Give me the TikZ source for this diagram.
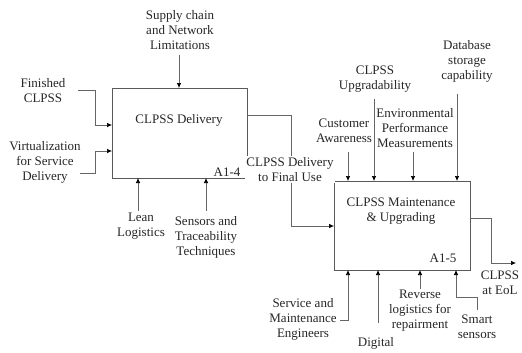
\documentclass[tikz,border=0pt]{standalone}
\usepackage{fontspec}
\setmainfont{Liberation Serif}
\usetikzlibrary{arrows.meta}
\begin{document}
\begin{tikzpicture}[x=1pt,y=-1pt,
  every node/.style={font=\fontsize{13}{15}\selectfont, text=black!85},
  box/.style={draw=black!65, line width=0.8pt, fill=white, inner sep=0pt},
  lbl/.style={align=center, inner sep=1pt},
  conn/.style={draw=black!60, line width=0.7pt},
  arr/.style={conn, -{Latex[length=5pt,width=4.5pt,black]}}]
\useasboundingbox (0,0) rectangle (522,353);
% boxes
\node[box, minimum width=135pt, minimum height=90pt] (b1) at (179.5,133) {};
\node[box, minimum width=136pt, minimum height=89pt] (b2) at (402,225.5) {};
\node (t1) at (179,120) {CLPSS Delivery};
\node (n1) at (227,172) {A1-4};
\node[lbl] (t2) at (401,211.5) {CLPSS Maintenance\\\& Upgrading};
\node (n2) at (443,258) {A1-5};
% labels
\node[lbl] (fin) at (43,91) {Finished\\CLPSS};
\node[lbl] (virt) at (45,162) {Virtualization\\for Service\\Delivery};
\node[lbl] (sup) at (180,30) {Supply chain\\and Network\\Limitations};
\node[lbl] (lean) at (141,226) {Lean\\Logistics};
\node[lbl] (sens) at (206,237) {Sensors and\\Traceability\\Techniques};
\node[lbl] (cust) at (344,130.5) {Customer\\Awareness};
\node[lbl] (upg) at (375,79.5) {CLPSS\\Upgradability};
\node[lbl] (env) at (415,128) {Environmental\\Performance\\Measurements};
\node[lbl] (db) at (467,61) {Database\\storage\\capability};
\node[lbl] (eol) at (500,282.5) {CLPSS\\at EoL};
\node[lbl] (serv) at (303,319.5) {Service and\\Maintenance\\Engineers};
\node[lbl] (dig) at (376,343) {Digital};
\node[lbl] (rev) at (420,311) {Reverse\\logistics for\\repairment};
\node[lbl] (smart) at (477,327) {Smart\\sensors};
% coordinates
\coordinate (finS) at (78,90);
\coordinate (finB) at (95,125);
\coordinate (finE) at (112,125);
\coordinate (virS) at (80,173);
\coordinate (virB) at (95,151);
\coordinate (virE) at (112,151);
\coordinate (supS) at (179,55);
\coordinate (supE) at (179,88);
\coordinate (leaS) at (138,211);
\coordinate (leaE) at (138,178);
\coordinate (senS) at (206,211);
\coordinate (senE) at (206,178);
\coordinate (o1S) at (247,115);
\coordinate (o1B) at (291,226);
\coordinate (o1E) at (334,226);
\coordinate (cusS) at (348,152);
\coordinate (cusE) at (348,181);
\coordinate (upgS) at (374,99);
\coordinate (upgE) at (374,181);
\coordinate (envS) at (413,152);
\coordinate (envE) at (413,181);
\coordinate (dbS) at (457,94);
\coordinate (dbE) at (457,181);
\coordinate (o2S) at (470,218);
\coordinate (o2B) at (491,263);
\coordinate (o2E) at (516,263);
\coordinate (serS) at (340,320);
\coordinate (serE) at (348,270);
\coordinate (digS) at (378,323);
\coordinate (digE) at (378,270);
\coordinate (revS) at (420,289);
\coordinate (revE) at (420,270);
\coordinate (smS) at (477,310);
\coordinate (smB) at (456,297);
\coordinate (smE) at (456,270);
% connectors
\draw[arr] (finS) -| (finB) -- (finE);
\draw[arr] (virS) -| (virB) -- (virE);
\draw[arr] (supS) -- (supE);
\draw[arr] (leaS) -- (leaE);
\draw[arr] (senS) -- (senE);
\draw[arr] (o1S) -| (o1B) -- (o1E);
\node[lbl, fill=white] (o1l) at (290,169.5) {CLPSS Delivery\\to Final Use};
\draw[arr] (cusS) -- (cusE);
\draw[arr] (upgS) -- (upgE);
\draw[arr] (envS) -- (envE);
\draw[arr] (dbS) -- (dbE);
\draw[arr] (o2S) -| (o2B) -- (o2E);
\draw[arr] (serS) -| (serE);
\draw[arr] (digS) -- (digE);
\draw[arr] (revS) -- (revE);
\draw[arr] (smS) |- (smB) -- (smE);
\end{tikzpicture}
\end{document}
